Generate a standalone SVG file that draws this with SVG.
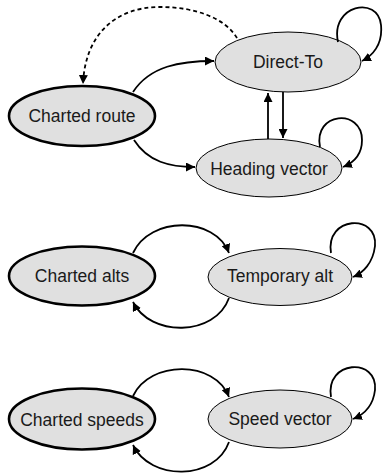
<svg xmlns="http://www.w3.org/2000/svg" width="383" height="476" viewBox="0 0 383 476">
  <style>
    .state { fill: #e0e0e0; stroke: #000; stroke-width: 1; }
    .initial { stroke-width: 2.6; }
    .label { font-family: "Liberation Sans", Arial, sans-serif; font-size: 17.5px; fill: #1a1a1a; text-anchor: middle; }
    .edge { fill: none; stroke: #000; stroke-width: 1.8; marker-end: url(#arrow); }
    .dashed { stroke-dasharray: 4 3; }
  </style>
  <defs>
    <marker id="arrow" markerUnits="userSpaceOnUse" markerWidth="10" markerHeight="9" refX="9" refY="4.5" orient="auto">
      <path d="M0,0 L9,4.5 L0,9 z" fill="#000"/>
    </marker>
  </defs>

  <!-- lateral modes -->
  <g id="charted-route">
    <ellipse class="state initial" cx="82" cy="116" rx="73" ry="30"/>
    <text class="label" x="82" y="122">Charted route</text>
  </g>
  <g id="direct-to">
    <ellipse class="state" cx="288" cy="62" rx="73" ry="30"/>
    <text class="label" x="288" y="68">Direct-To</text>
  </g>
  <g id="heading-vector">
    <ellipse class="state" cx="269" cy="168" rx="73" ry="29"/>
    <text class="label" x="269" y="175">Heading vector</text>
  </g>

  <!-- vertical modes -->
  <g id="charted-alts">
    <ellipse class="state initial" cx="82" cy="276" rx="73" ry="29.5"/>
    <text class="label" x="82" y="282">Charted alts</text>
  </g>
  <g id="temporary-alt">
    <ellipse class="state" cx="280" cy="277" rx="72" ry="28.5"/>
    <text class="label" x="280" y="282">Temporary alt</text>
  </g>

  <!-- speed modes -->
  <g id="charted-speeds">
    <ellipse class="state initial" cx="82" cy="419" rx="73" ry="30.5"/>
    <text class="label" x="82" y="426">Charted speeds</text>
  </g>
  <g id="speed-vector">
    <ellipse class="state" cx="280" cy="419" rx="72" ry="29"/>
    <text class="label" x="280" y="425">Speed vector</text>
  </g>

  <g id="connectors">
    <!-- lateral -->
    <path class="edge dashed" d="M237,38 C225,18 195,7 160,7 C115,7 85,35 83,84"/>
    <path class="edge" d="M133,92 C150,66 180,61 214,61"/>
    <path class="edge" d="M134,140 C148,162 170,167 195,167"/>
    <path class="edge" d="M268,139 L268,93"/>
    <path class="edge" d="M283,92 L283,138"/>
    <path class="edge" d="M338,42 C330,5 378,-5 381,25 C383,45 372,56 362,61"/>
    <path class="edge" d="M320,147 C313,112 362,108 362,140 C362,155 353,163 343,167"/>
    <!-- vertical -->
    <path class="edge" d="M133,253 C150,216 215,216 229,253"/>
    <path class="edge" d="M229,298 C215,337 150,337 133,302"/>
    <path class="edge" d="M331,253 C325,216 378,213 375,246 C373,263 363,273 353,277"/>
    <!-- speed -->
    <path class="edge" d="M133,396 C150,360 215,360 229,397"/>
    <path class="edge" d="M229,442 C215,481 150,481 133,445"/>
    <path class="edge" d="M331,397 C325,360 378,357 375,390 C373,407 363,415 353,419"/>
  </g>
</svg>
